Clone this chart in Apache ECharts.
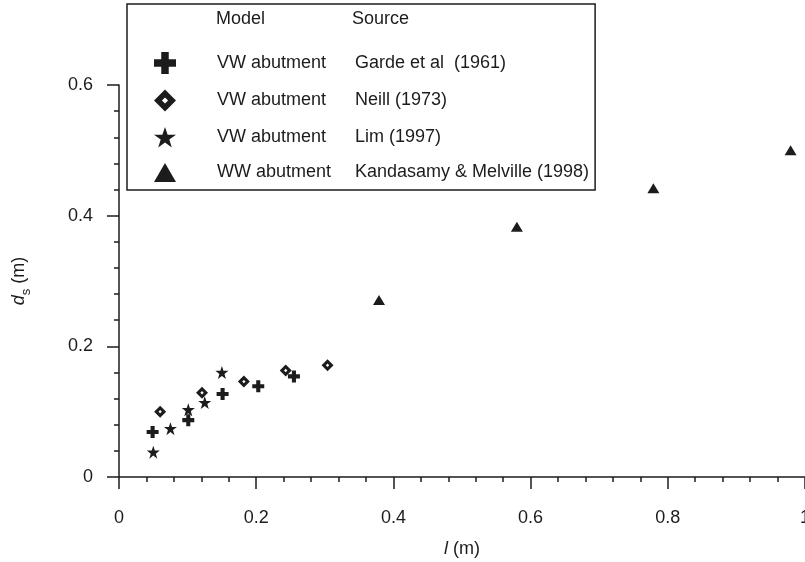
<!DOCTYPE html>
<html><head><meta charset="utf-8">
<script src="https://cdn.jsdelivr.net/npm/echarts@6/dist/echarts.min.js"></script>
<style>html,body{margin:0;padding:0;background:#fff}#c{width:805px;height:562px}</style>
</head><body><div id="c"></div>
<script>
// ---- data ----
const headers = ['Model', 'Source'];
const models = ['VW abutment', 'VW abutment', 'VW abutment', 'WW abutment'];
const sources = ['Garde et al  (1961)', 'Neill (1973)', 'Lim (1997)', 'Kandasamy & Melville (1998)'];
const gardeL  = [0.049, 0.101, 0.151, 0.203, 0.255];
const gardeDs = [0.069, 0.087, 0.127, 0.139, 0.154];
const neillL  = [0.060, 0.121, 0.182, 0.243, 0.304];
const neillDs = [0.100, 0.129, 0.146, 0.163, 0.171];
const limL    = [0.050, 0.075, 0.101, 0.125, 0.150];
const limDs   = [0.038, 0.074, 0.103, 0.114, 0.160];
const kmL     = [0.379, 0.580, 0.779, 0.979];
const kmDs    = [0.271, 0.383, 0.442, 0.500];

const INK = '#1c1c1c';
const FONT = '"Liberation Sans", Arial, sans-serif';
const FS = 18;
const pairs = (xs, ys) => xs.map((x, i) => [x, ys[i]]);
const PLUS = 'path://M33,0H67V33H100V67H67V100H33V67H0V33H33Z';
const DIAMOND = 'path://M50,0L100,50L50,100L0,50Z M50,36L36,50L50,64L64,50Z';
const STAR = 'path://M50,0L62,35H100L69.5,57L81,93L50,71L19,93L30.5,57L0,35H38Z';
const TRI = 'path://M50,0L100,86H0Z';

const chart = echarts.init(document.getElementById('c'), null, {renderer: 'canvas'});
chart.setOption({
  animation: false,
  backgroundColor: '#fff',
  grid: {left: 119, right: 0, top: 85, bottom: 85, containLabel: false, outerBoundsMode: 'none'},
  xAxis: {
    type: 'value', min: 0, max: 1, interval: 0.2,
    name: '{i|l} (m)', nameLocation: 'middle', nameGap: 63,
    nameTextStyle: {fontFamily: FONT, fontSize: FS, color: INK,
      rich: {i: {fontStyle: 'italic', fontFamily: FONT, fontSize: FS, color: INK}}},
    axisLine: {show: true, onZero: false, lineStyle: {color: INK, width: 1.5}},
    axisTick: {show: true, inside: false, length: 12, lineStyle: {color: INK, width: 1.5}},
    minorTick: {show: true, splitNumber: 5, length: 5, lineStyle: {color: INK, width: 1.5}},
    axisLabel: {margin: 32, fontFamily: FONT, fontSize: FS, color: INK},
    splitLine: {show: false}
  },
  yAxis: {
    type: 'value', min: 0, max: 0.6, interval: 0.2,
    name: '{i|d}{sub|s}{n| (m)}', nameLocation: 'middle', nameGap: 86,
    nameTextStyle: {fontFamily: FONT, fontSize: FS, color: INK,
      rich: {
        i: {fontStyle: 'italic', fontFamily: FONT, fontSize: FS, color: INK, lineHeight: 28, verticalAlign: 'middle'},
        sub: {fontFamily: FONT, fontSize: 13, color: INK, lineHeight: 13, verticalAlign: 'bottom'},
        n: {fontFamily: FONT, fontSize: FS, color: INK, lineHeight: 28, verticalAlign: 'middle'}
      }},
    axisLine: {show: true, onZero: false, lineStyle: {color: INK, width: 1.5}},
    axisTick: {show: true, inside: false, length: 12, lineStyle: {color: INK, width: 1.5}},
    minorTick: {show: true, splitNumber: 5, length: 5, lineStyle: {color: INK, width: 1.5}},
    axisLabel: {margin: 26, fontFamily: FONT, fontSize: FS, color: INK},
    splitLine: {show: false}
  },
  legend: {
    orient: 'vertical', left: 127, top: 4,
    padding: [48, 6, 8, 27],
    itemWidth: 22, itemHeight: 22, itemGap: 15.5,
    backgroundColor: '#fff', borderColor: INK, borderWidth: 1.5, borderRadius: 0,
    data: sources,
    formatter: name => '{m|' + models[sources.indexOf(name)] + '}{s|' + name + '}',
    textStyle: {
      fontFamily: FONT, fontSize: FS, color: INK,
      rich: {
        m: {fontFamily: FONT, fontSize: FS, color: INK, padding: [0, 0, 0, 36], width: 138},
        s: {fontFamily: FONT, fontSize: FS, color: INK}
      }
    }
  },
  graphic: [
    {type: 'text', left: 216, top: 10, z: 100, style: {text: headers[0], font: FS + 'px ' + FONT, fill: INK}},
    {type: 'text', left: 352, top: 10, z: 100, style: {text: headers[1], font: FS + 'px ' + FONT, fill: INK}}
  ],
  series: [
    {name: sources[0], type: 'scatter', symbol: PLUS, symbolSize: 12,
     itemStyle: {color: INK, opacity: 1}, data: pairs(gardeL, gardeDs)},
    {name: sources[1], type: 'scatter', symbol: DIAMOND, symbolSize: 12,
     itemStyle: {color: INK, opacity: 1}, data: pairs(neillL, neillDs)},
    {name: sources[2], type: 'scatter', symbol: STAR, symbolSize: 13,
     itemStyle: {color: INK, opacity: 1}, data: pairs(limL, limDs)},
    {name: sources[3], type: 'scatter', symbol: TRI, symbolSize: [12, 10],
     itemStyle: {color: INK, opacity: 1}, data: pairs(kmL, kmDs)}
  ]
});
</script>
</body></html>
